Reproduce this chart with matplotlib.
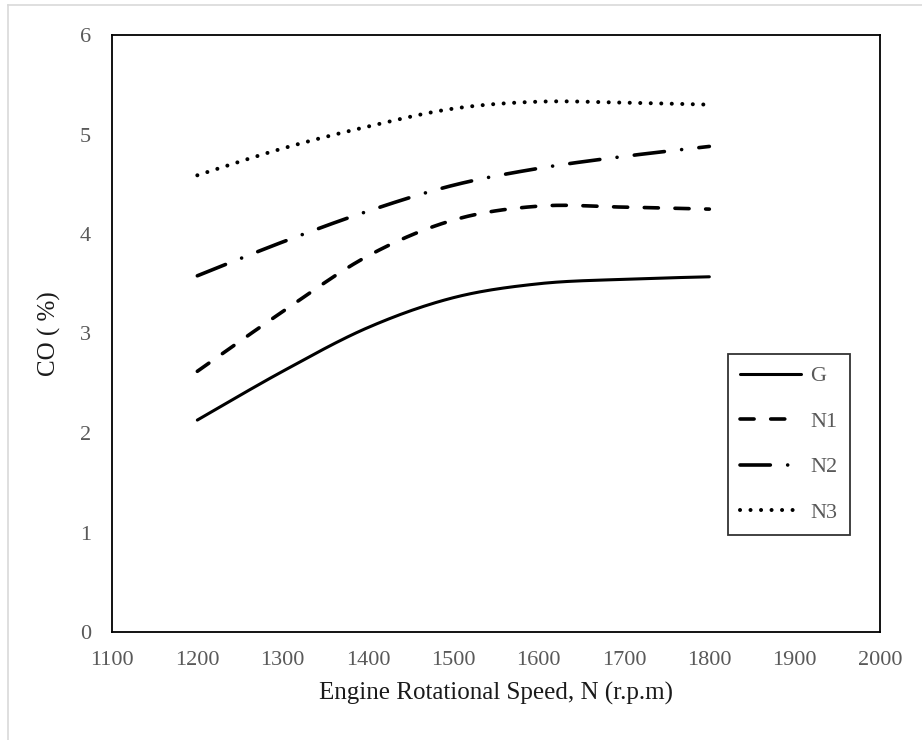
import numpy as np
import matplotlib
matplotlib.use("Agg")
import matplotlib.pyplot as plt
from matplotlib.lines import Line2D

# ---- data ----
speed = [1200, 1300, 1400, 1500, 1600, 1700, 1800]
co_G  = [2.13, 2.62, 3.06, 3.36, 3.50, 3.545, 3.57]
co_N1 = [2.62, 3.22, 3.78, 4.14, 4.28, 4.27, 4.25]
co_N2 = [3.58, 3.92, 4.23, 4.49, 4.66, 4.78, 4.88]
co_N3 = [4.59, 4.86, 5.08, 5.26, 5.33, 5.32, 5.30]
labels = ["G", "N1", "N2", "N3"]
x_ticks = [1100, 1200, 1300, 1400, 1500, 1600, 1700, 1800, 1900, 2000]
y_ticks = [0, 1, 2, 3, 4, 5, 6]


def smooth(xs, ys, n=30):
    """Excel-like smoothed line: Catmull-Rom converted to cubic Bezier."""
    p = np.column_stack([xs, ys]).astype(float)
    pts = np.vstack([p[0], p, p[-1]])
    out = []
    t = np.linspace(0, 1, n)[:, None]
    for i in range(1, len(pts) - 2):
        p0, p1, p2, p3 = pts[i - 1], pts[i], pts[i + 1], pts[i + 2]
        c1 = p1 + (p2 - p0) / 6.0
        c2 = p2 - (p3 - p1) / 6.0
        seg = ((1 - t) ** 3) * p1 + 3 * ((1 - t) ** 2) * t * c1 + 3 * (1 - t) * t ** 2 * c2 + t ** 3 * p2
        out.append(seg if i == 1 else seg[1:])
    out = np.vstack(out)
    return out[:, 0], out[:, 1]


W, H = 922, 740
fig = plt.figure(figsize=(W / 100, H / 100), dpi=100)
ax = fig.add_axes([112 / W, 1 - 632 / H, (880 - 112) / W, (632 - 35) / H])

serif = ["Liberation Serif", "DejaVu Serif"]
grey = "#595959"
lw = 2.6

styles = [
    dict(linestyle="-", linewidth=2.2),
    dict(linestyle=(0, (3.9, 4.6)), linewidth=lw, dash_capstyle="round"),
    dict(linestyle=(0, (8.4, 4.8, 0.01, 4.8)), linewidth=lw, dash_capstyle="round"),
    dict(linestyle=(0, (0.01, 2.6)), linewidth=2.9, dash_capstyle="round"),
]

for ys, lab, st in zip([co_G, co_N1, co_N2, co_N3], labels, styles):
    sx, sy = smooth(speed, ys)
    ax.plot(sx, sy, color="black", label=lab, solid_capstyle="round", **st)

ax.set_xlim(1100, 2000)
ax.set_ylim(0, 6)
ax.set_xticks(x_ticks)
ax.set_yticks(y_ticks)
ax.set_xticklabels([str(v) for v in x_ticks], fontfamily=serif, fontsize=16, color=grey)
ax.set_yticklabels([str(v) for v in y_ticks], fontfamily=serif, fontsize=16, color=grey)
ax.tick_params(axis="both", length=0)
ax.tick_params(axis="x", pad=14)
ax.tick_params(axis="y", pad=15)
for s in ax.spines.values():
    s.set_linewidth(1.3)
    s.set_color("black")

ax.set_xlabel("Engine Rotational Speed, N (r.p.m)", fontfamily=serif, fontsize=18,
              color="#1a1a1a", labelpad=8)
ax.set_ylabel("CO ( %)", fontfamily=serif, fontsize=18, color="#1a1a1a", labelpad=14)

leg = ax.legend(loc="lower left", bbox_to_anchor=((728 - 112) / 768, (632 - 535) / 597),
                borderaxespad=0, frameon=True, fancybox=False, handlelength=2.75,
                handletextpad=0.4, labelspacing=1.12, borderpad=0.55,
                prop={"family": serif, "size": 16})
leg.get_frame().set_edgecolor("black")
leg.get_frame().set_linewidth(1.3)
for t in leg.get_texts():
    t.set_color(grey)

# light outer chart border (left and top edges visible in reference)
fig.add_artist(Line2D([8 / W, 8 / W], [0, 1 - 5 / H], color="#d9d9d9", linewidth=1.2,
                      transform=fig.transFigure))
fig.add_artist(Line2D([8 / W, 1], [1 - 5 / H, 1 - 5 / H], color="#d9d9d9", linewidth=1.2,
                      transform=fig.transFigure))

fig.savefig("out.png", dpi=100)
